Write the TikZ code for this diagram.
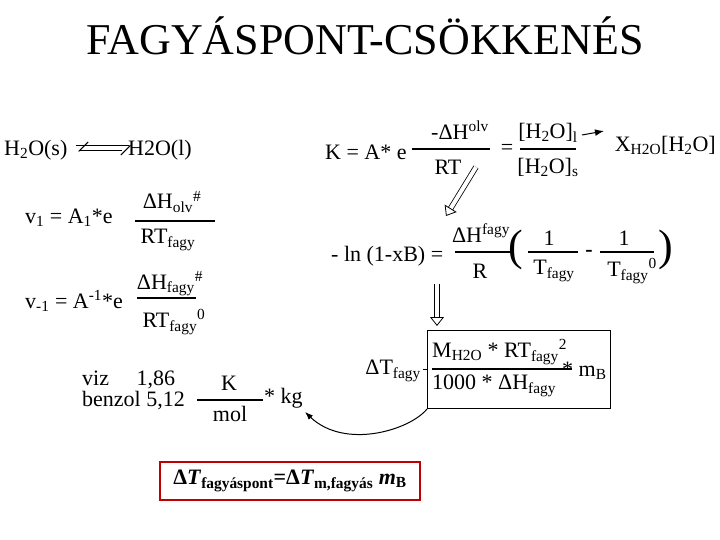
\documentclass[tikz,border=0pt]{standalone}
\usepackage{fontspec}
\setmainfont{Liberation Serif}
\usetikzlibrary{arrows.meta}
\newcommand{\lo}[1]{\textsubscript{#1}}
\newcommand{\hi}[1]{\textsuperscript{#1}}
\begin{document}
\begin{tikzpicture}[x=1pt,y=-1pt,
    txt/.style={inner sep=0pt, font=\fontsize{22}{24}\selectfont},
    bar/.style={line width=1.5pt},
    hollow/.style={double, double distance=4pt, line width=0.8pt, -{Triangle[open, length=9pt, width=14pt]}}]
    \useasboundingbox (0,0) rectangle (720,540);
    % title
    \node[txt, font=\fontsize{44}{48}\selectfont] (title) at (365,36) {FAGYÁSPONT-CSÖKKENÉS};

    % LEFT: equilibrium and rates
    \node[txt, anchor=west] (sol) at (4,150) {H\lo{2}O(s)};
    \node[txt, anchor=west] (liq) at (128,150) {H2O(l)};
    \draw[line width=1pt, -{Straight Barb[right, length=9pt]}] (76,146) -- (131,146);
    \draw[line width=1pt, -{Straight Barb[right, length=9pt]}] (122,151) -- (78,151);

    \node[txt, anchor=west] (v1) at (25,218) {v\lo{1} = A\lo{1}*e};
    \node[txt] (n1) at (172,202) {ΔH\lo{olv}\hi{\#}};
    \node[txt] (d1) at (168,240) {RT\lo{fagy}};
    \draw[bar] (135,221) -- (215,221);

    \node[txt, anchor=west] (v2) at (25,301) {v\lo{-1} = A\hi{-1}*e};
    \node[txt] (n2) at (170,284) {ΔH\lo{fagy}\hi{\#}};
    \node[txt] (d2) at (174,322) {RT\lo{fagy}\hi{0}};
    \draw[bar] (137,298) -- (196,298);

    % RIGHT TOP: equilibrium constant
    \node[txt, anchor=west] (K) at (325,152) {K = A* e};
    \node[txt] (n3) at (460,130) {-ΔH\hi{olv}};
    \node[txt] (d3) at (448,167) {RT};
    \draw[bar] (412,149) -- (490,149);
    \node[txt] (eq) at (507,149) {=};
    \node[txt] (n4) at (548,133) {[H\lo{2}O]\lo{l}};
    \node[txt] (d4) at (548,167) {[H\lo{2}O]\lo{s}};
    \draw[bar] (520,149) -- (576,149);
    \node[txt, anchor=east] (X) at (716,145) {X\lo{H2O}[H\lo{2}O]};
    \draw[line width=1pt, -{Latex[length=9pt]}] (582,135) -- (604,131);
    \draw[hollow] (476,167) -- (446,216);

    % logarithmic form
    \node[txt, anchor=west] (ln) at (331,256) {- ln (1-xB) =};
    \node[txt] (n5) at (481,233) {ΔH\hi{fagy}};
    \node[txt] (d5) at (480,271) {R};
    \draw[bar] (455,252) -- (512,252);
    \node[txt, font=\fontsize{44}{44}\selectfont] (lp) at (516,250) {(};
    \node[txt] (n6) at (549,238) {1};
    \node[txt] (d6) at (554,271) {T\lo{fagy}};
    \draw[bar] (528,252) -- (578,252);
    \node[txt, font=\bfseries\fontsize{22}{24}\selectfont] (minus) at (589,253) {-};
    \node[txt] (n7) at (624,238) {1};
    \node[txt] (d7) at (632,271) {T\lo{fagy}\hi{0}};
    \draw[bar] (600,252) -- (654,252);
    \node[txt, font=\fontsize{44}{44}\selectfont] (rp) at (666,250) {)};
    \draw[hollow] (437,284) -- (437,326);

    % boxed result
    \node[draw, line width=1pt, minimum width=183pt, minimum height=78pt, anchor=north west] (box) at (427,330) {};
    \node[txt, anchor=west] (n8) at (432,352) {M\lo{H2O} * RT\lo{fagy}\hi{2}};
    \node[txt, anchor=west] (d8) at (432,386) {1000 * ΔH\lo{fagy}};
    \draw[bar] (432,369) -- (572,369);
    \node[txt, anchor=west] (mB) at (562,371) {* m\lo{B}};
    \node[txt, anchor=east] (dT) at (421,371) {ΔT\lo{fagy}};
    \draw[line width=0.8pt] (box.west |- 0,369) -- ++(-4,0);

    % constants
    \node[txt, anchor=west] (viz) at (82,380) {viz \hspace{22pt}1,86};
    \node[txt, anchor=west] (benz) at (82,401) {benzol 5,12};
    \node[txt] (n9) at (229,383) {K};
    \node[txt] (d9) at (230,414) {mol};
    \draw[bar] (197,400) -- (263,400);
    \node[txt, anchor=west] (kg) at (250,398) {\hspace{14pt}* kg};
    \draw[line width=1pt, -{Latex[length=8pt]}] (box.south west) .. controls (410,430) and (345,450) .. (305,412);

    % final formula
    \node[draw=red!75!black, line width=2.2pt, minimum width=260pt, minimum height=38pt] (final) at (290,481)
        {\bfseries\fontsize{22}{24}\selectfont Δ\textit{T}\lo{fagyáspont}=Δ\textit{T}\lo{m,fagyás} \textit{m}\lo{B}};
\end{tikzpicture}
\end{document}
